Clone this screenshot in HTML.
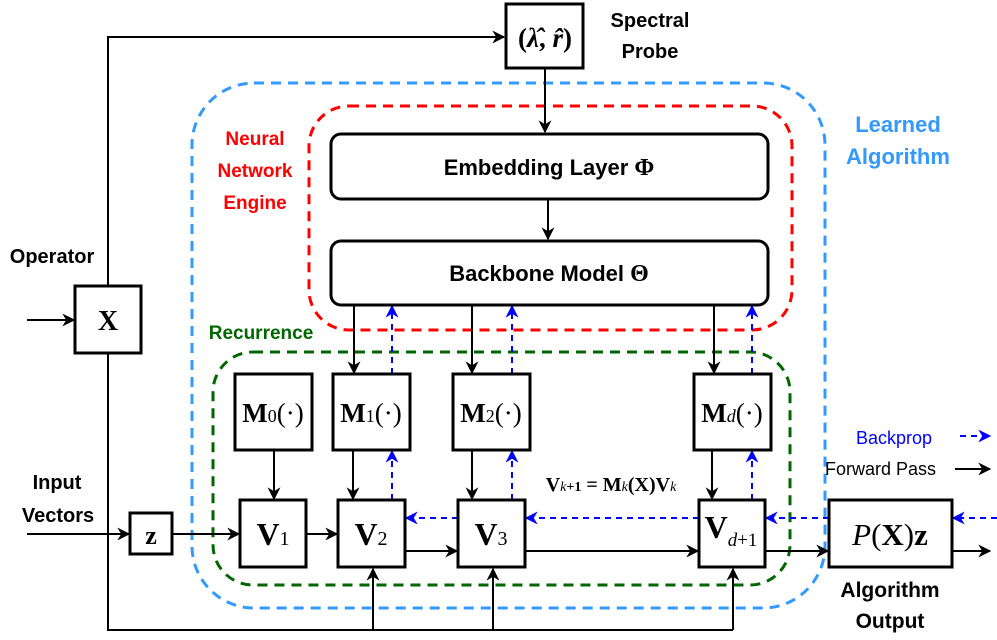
<!DOCTYPE html>
<html><head><meta charset="utf-8"><style>
body{margin:0;background:#fff}
svg{display:block}
text{font-family:"Liberation Sans",sans-serif;font-weight:bold}
.m{font-family:"Liberation Serif",serif}
</style></head><body>
<svg width="997" height="640" viewBox="0 0 997 640" xmlns="http://www.w3.org/2000/svg">
<defs>
<marker id="a" viewBox="0 0 10 10" refX="9" refY="5" markerWidth="13" markerHeight="13" markerUnits="userSpaceOnUse" orient="auto"><path d="M0,0 L10,5 L0,10 L3,5z" fill="#000"/></marker>
<marker id="b" viewBox="0 0 10 10" refX="9" refY="5" markerWidth="13" markerHeight="13" markerUnits="userSpaceOnUse" orient="auto"><path d="M0,0 L10,5 L0,10 L3,5z" fill="#00f"/></marker>
</defs>
<rect x="192" y="83" width="633" height="525" rx="62" fill="none" stroke="#3399ff" stroke-width="3" stroke-dasharray="10,7"/>
<rect x="309" y="106" width="483" height="224" rx="40" fill="none" stroke="#ff0000" stroke-width="3" stroke-dasharray="10,7"/>
<rect x="213" y="352" width="577" height="233" rx="40" fill="none" stroke="#006600" stroke-width="3" stroke-dasharray="10,7"/>
<g fill="none" stroke="#000" stroke-width="2">
<polyline points="108,286 108,37 504,37" marker-end="url(#a)"/>
<line x1="545" y1="68" x2="545" y2="132" marker-end="url(#a)"/>
<line x1="548" y1="199" x2="548" y2="239" marker-end="url(#a)"/>
<line x1="27" y1="320" x2="74" y2="320" marker-end="url(#a)"/>
<polyline points="108,353 108,630 733,630"/>
<line x1="373" y1="630" x2="373" y2="569" marker-end="url(#a)"/>
<line x1="493" y1="630" x2="493" y2="569" marker-end="url(#a)"/>
<line x1="733" y1="630" x2="733" y2="569" marker-end="url(#a)"/>
<line x1="354" y1="305" x2="354" y2="373" marker-end="url(#a)"/>
<line x1="472" y1="305" x2="472" y2="373" marker-end="url(#a)"/>
<line x1="714" y1="305" x2="714" y2="373" marker-end="url(#a)"/>
<line x1="274" y1="450" x2="274" y2="499" marker-end="url(#a)"/>
<line x1="353" y1="450" x2="353" y2="499" marker-end="url(#a)"/>
<line x1="472" y1="450" x2="472" y2="499" marker-end="url(#a)"/>
<line x1="712" y1="450" x2="712" y2="499" marker-end="url(#a)"/>
<line x1="27" y1="534" x2="129" y2="534" marker-end="url(#a)"/>
<line x1="172" y1="534" x2="239" y2="534" marker-end="url(#a)"/>
<line x1="306" y1="534" x2="337" y2="534" marker-end="url(#a)"/>
<line x1="405" y1="551" x2="457" y2="551" marker-end="url(#a)"/>
<line x1="525" y1="551" x2="698" y2="551" marker-end="url(#a)"/>
<line x1="765" y1="551" x2="828" y2="551" marker-end="url(#a)"/>
<line x1="952" y1="551" x2="990" y2="551" marker-end="url(#a)"/>
<line x1="955" y1="469" x2="990" y2="469" marker-end="url(#a)"/>
</g>
<g fill="none" stroke="#00f" stroke-width="2" stroke-dasharray="6,5">
<line x1="392" y1="374" x2="392" y2="306" marker-end="url(#b)"/>
<line x1="512" y1="374" x2="512" y2="306" marker-end="url(#b)"/>
<line x1="752" y1="374" x2="752" y2="306" marker-end="url(#b)"/>
<line x1="392" y1="500" x2="392" y2="451" marker-end="url(#b)"/>
<line x1="512" y1="500" x2="512" y2="451" marker-end="url(#b)"/>
<line x1="752" y1="500" x2="752" y2="451" marker-end="url(#b)"/>
<line x1="458" y1="518" x2="406" y2="518" marker-end="url(#b)"/>
<line x1="699" y1="518" x2="526" y2="518" marker-end="url(#b)"/>
<line x1="829" y1="518" x2="766" y2="518" marker-end="url(#b)"/>
<line x1="997" y1="518" x2="953" y2="518" marker-end="url(#b)"/>
<line x1="960" y1="436" x2="990" y2="436" marker-end="url(#b)"/>
</g>
<g fill="#fff" stroke="#000" stroke-width="3">
<rect x="506" y="4" width="77" height="64"/>
<rect x="331" y="134" width="437" height="65" rx="10"/>
<rect x="331" y="241" width="437" height="64" rx="10"/>
<rect x="75" y="286" width="66" height="67"/>
<rect x="130" y="513" width="42" height="41"/>
<rect x="235" y="374" width="77" height="76"/>
<rect x="333" y="374" width="77" height="76"/>
<rect x="453" y="374" width="77" height="76"/>
<rect x="694" y="374" width="77" height="76"/>
<rect x="240" y="500" width="66" height="67"/>
<rect x="338" y="500" width="67" height="67"/>
<rect x="458" y="500" width="67" height="67"/>
<rect x="699" y="500" width="66" height="67"/>
<rect x="829" y="500" width="123" height="67"/>
</g>
<g font-size="20" text-anchor="middle">
<text x="650" y="27">Spectral</text>
<text x="650" y="58">Probe</text>
<text x="549" y="175" font-size="22">Embedding Layer <tspan class="m" font-size="24">Φ</tspan></text>
<text x="549" y="281" font-size="22">Backbone Model <tspan class="m" font-size="24">Θ</tspan></text>
<text x="52" y="263">Operator</text>
<text x="57" y="489">Input</text>
<text x="58" y="522">Vectors</text>
<text x="890" y="597" font-size="21">Algorithm</text>
<text x="890" y="628" font-size="21">Output</text>
<text x="255" y="145" fill="#f00" font-size="19">Neural</text>
<text x="255" y="177" fill="#f00" font-size="19">Network</text>
<text x="255" y="209" fill="#f00" font-size="19">Engine</text>
<text x="898" y="132" fill="#3399ff" font-size="22">Learned</text>
<text x="898" y="164" fill="#3399ff" font-size="22">Algorithm</text>
<text x="261" y="339" fill="#006600" font-size="19">Recurrence</text>
</g>
<text x="856" y="444" fill="#00f" font-size="18" style="font-weight:normal">Backprop</text>
<text x="825" y="475" font-size="18" style="font-weight:normal">Forward Pass</text>
<g class="m" text-anchor="middle" font-weight="bold">
<text x="545" y="47" font-size="27" class="m">(<tspan font-style="italic">λ̂</tspan>, <tspan font-style="italic">r̂</tspan>)</text>
<text x="108" y="330" font-size="28" class="m">X</text>
<text x="151" y="544" font-size="26" class="m">z</text>
<text x="273" y="422" font-size="27" class="m">M<tspan font-size="18" font-weight="normal">0</tspan><tspan font-weight="normal">(·)</tspan></text>
<text x="371" y="422" font-size="27" class="m">M<tspan font-size="18" font-weight="normal">1</tspan><tspan font-weight="normal">(·)</tspan></text>
<text x="491" y="422" font-size="27" class="m">M<tspan font-size="18" font-weight="normal">2</tspan><tspan font-weight="normal">(·)</tspan></text>
<text x="732" y="422" font-size="27" class="m">M<tspan font-size="18" font-weight="normal" font-style="italic">d</tspan><tspan font-weight="normal">(·)</tspan></text>
<text x="273" y="545" font-size="32" class="m">V<tspan font-size="20" font-weight="normal">1</tspan></text>
<text x="371" y="545" font-size="32" class="m">V<tspan font-size="20" font-weight="normal">2</tspan></text>
<text x="491" y="545" font-size="32" class="m">V<tspan font-size="20" font-weight="normal">3</tspan></text>
<text x="731" y="538" font-size="32" class="m">V<tspan font-size="19" font-weight="normal" font-style="italic" dy="8">d</tspan><tspan font-size="19" font-weight="normal">+1</tspan></text>
<text x="890" y="545" font-size="31" class="m"><tspan font-style="italic" font-weight="normal">P</tspan><tspan font-weight="normal">(</tspan>X<tspan font-weight="normal">)</tspan>z</text>
<text x="611" y="491" font-size="20" class="m">V<tspan font-size="14" font-style="italic" font-weight="normal">k</tspan><tspan font-size="14">+1</tspan> = M<tspan font-size="14" font-style="italic" font-weight="normal">k</tspan>(X)V<tspan font-size="14" font-style="italic" font-weight="normal">k</tspan></text>
</g>
</svg>
</body></html>
